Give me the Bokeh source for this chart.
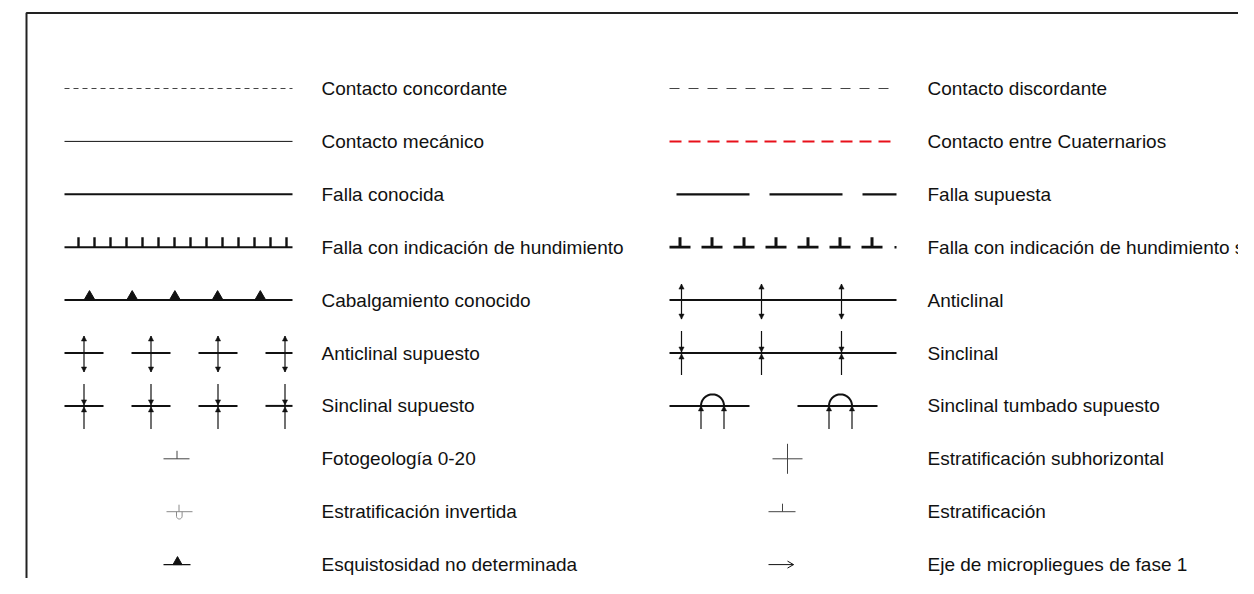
import numpy as np
from bokeh.plotting import figure
from bokeh.models import Range1d
from bokeh.embed import file_html
from bokeh.resources import INLINE
from bokeh.core.properties import value

# ---- legend content ----
left_labels = ["Contacto concordante", "Contacto mecánico", "Falla conocida",
               "Falla con indicación de hundimiento", "Cabalgamiento conocido",
               "Anticlinal supuesto", "Sinclinal supuesto", "Fotogeología 0-20",
               "Estratificación invertida", "Esquistosidad no determinada"]
right_labels = ["Contacto discordante", "Contacto entre Cuaternarios", "Falla supuesta",
                "Falla con indicación de hundimiento supuesto", "Anticlinal", "Sinclinal",
                "Sinclinal tumbado supuesto", "Estratificación subhorizontal",
                "Estratificación", "Eje de micropliegues de fase 1"]
left_symbols = ["dotted", "thin", "thick", "hund", "cabalg", "antic_sup", "sincl_sup",
                "foto", "invert", "esquist"]
right_symbols = ["dashed", "red_dashed", "long_dashed", "hund_sup", "antic", "sincl",
                 "tumbado", "cross", "estrat", "micro"]

W, H = 1238, 578
p = figure(width=W, height=H, x_range=Range1d(0, W), y_range=Range1d(H, 0),
           output_backend="svg", toolbar_location=None, min_border=0,
           x_axis_location=None, y_axis_location=None)
p.grid.visible = False
p.outline_line_color = None
p.background_fill_color = "white"

# frame
p.line([26, 26, 1300], [700, 12.5, 12.5], line_width=2, line_color="#222222")

ROW0, DY = 88, 52.9
LX0, LX1 = 64, 292
RX0, RX1 = 669, 896
K = "#111111"


def hline(x0, x1, y, w=1, c=K, dash="solid"):
    p.line([x0, x1], [y, y], line_width=w, line_color=c, line_dash=dash)


def head(x, ty, up, s=2.6, h=5, c=K):
    d = h if up else -h
    p.patch([x - s, x + s, x], [ty + d, ty + d, ty], fill_color=c, line_color=c, line_width=0.5)


def double_arrow(x, y, top=16, bot=19):
    p.segment(x, y - top, x, y + bot, line_width=1.2, line_color=K)
    head(x, y - top, True)
    head(x, y + bot, False)


def conv_arrow(x, y, top=22, bot=22):
    p.segment(x, y - top, x, y, line_width=1.2, line_color=K)
    p.segment(x, y + bot, x, y, line_width=1.2, line_color=K)
    head(x, y - 1, False)
    head(x, y + 1, True)


def draw(kind, x0, x1, y):
    cx = (x0 + x1) / 2
    if kind == "dotted":
        hline(x0, x1, y, 1, "#444444", "5 4")
    elif kind == "dashed":
        hline(x0, x1, y, 1, "#444444", "10 9")
    elif kind == "thin":
        hline(x0, x1, y, 1)
    elif kind == "red_dashed":
        hline(x0, x1, y, 2, "#e8101a", "12 7")
    elif kind == "thick":
        hline(x0, x1, y, 2)
    elif kind == "long_dashed":
        hline(x0 + 7, x1, y, 2.2, K, "73 20")
    elif kind == "hund":
        hline(x0, x1, y, 2)
        xs = np.arange(x0 + 14, x1, 16)
        p.segment(xs, y - 10, xs, y, line_width=2.4, line_color=K)
    elif kind == "hund_sup":
        starts = np.arange(x0, x1 - 21, 32)
        p.segment(starts, y, starts + 21, y, line_width=2.8, line_color=K)
        p.segment(starts + 10.5, y - 10, starts + 10.5, y, line_width=3, line_color=K)
        p.segment(x1 - 2, y, x1, y, line_width=2.6, line_color=K)
    elif kind == "cabalg":
        hline(x0, x1, y, 2)
        for xc in x0 + 25 + 42.7 * np.arange(5):
            p.patch([xc - 5.5, xc + 5.5, xc], [y, y, y - 9.5], fill_color=K, line_color=K)
    elif kind == "antic":
        hline(x0, x1, y, 2)
        for xc in x0 + 12 + 80 * np.arange(3):
            double_arrow(xc, y)
    elif kind == "sincl":
        hline(x0, x1, y, 2)
        for xc in x0 + 12 + 80 * np.arange(3):
            conv_arrow(xc, y)
    elif kind in ("antic_sup", "sincl_sup"):
        starts = np.arange(x0, x1, 67)
        ends = np.minimum(starts + 39, x1)
        p.segment(starts, y, ends, y, line_width=2, line_color=K)
        for xc in starts + 19.5:
            if kind == "antic_sup":
                double_arrow(min(xc, x1 - 7), y, 17, 19)
            else:
                conv_arrow(min(xc, x1 - 7), y, 22, 23)
    elif kind == "tumbado":
        for s in (x0, x0 + 128):
            p.segment(s, y, s + 80, y, line_width=2, line_color=K)
            c = s + 43
            r = 11.5
            th = np.linspace(0, np.pi, 30)
            p.line(c + r * np.cos(th), y - r * np.sin(th), line_width=2, line_color=K)
            for xa in (c - r, c + r):
                p.segment(xa, y + 23, xa, y, line_width=1.2, line_color=K)
                head(xa, y, True)
    elif kind == "foto":
        p.segment(cx - 15, y, cx + 11, y, line_width=1, line_color="#444444")
        p.segment(cx - 1.5, y - 8, cx - 1.5, y, line_width=1, line_color="#444444")
    elif kind == "invert":
        g = "#8a8a8a"
        p.segment(cx - 12, y, cx + 14, y, line_width=1, line_color=g)
        p.segment(cx + 0.5, y - 7, cx + 0.5, y, line_width=1, line_color=g)
        th = np.linspace(np.pi, 2 * np.pi, 15)
        ux = np.concatenate([[cx - 2], cx + 0.8 + 2.8 * np.cos(th), [cx + 3.6]])
        uy = np.concatenate([[y], y + 4.5 - 2.8 * np.sin(th), [y]])
        p.line(ux, uy, line_width=1, line_color=g)
    elif kind == "esquist":
        p.segment(cx - 15, y, cx + 12, y, line_width=1.2, line_color=K)
        p.patch([cx - 5.5, cx + 3.5, cx - 1], [y, y, y - 8], fill_color=K, line_color=K)
    elif kind == "cross":
        p.segment(cx - 10.5, y, cx + 19.5, y, line_width=1, line_color="#444444")
        p.segment(cx + 4.5, y - 15, cx + 4.5, y + 15, line_width=1, line_color="#444444")
    elif kind == "estrat":
        p.segment(cx - 14.5, y, cx + 12.5, y, line_width=1, line_color="#444444")
        p.segment(cx - 0.5, y - 8, cx - 0.5, y, line_width=1, line_color="#444444")
    elif kind == "micro":
        p.segment(cx - 14.5, y, cx + 10.5, y, line_width=1, line_color=K)
        p.line([cx + 4.5, cx + 10.5, cx + 4.5], [y - 3.5, y, y + 3.5], line_width=1, line_color=K)


rows_y = ROW0 + DY * np.arange(len(left_labels))
for i, y in enumerate(rows_y):
    draw(left_symbols[i], LX0, LX1, y)
    draw(right_symbols[i], RX0, RX1, y)

font = value("Liberation Sans")
p.text(x=[321] * len(left_labels), y=list(rows_y), text=left_labels,
       text_font=font, text_font_size="19px", text_baseline="middle",
       text_color="#111111")
p.text(x=[927] * len(right_labels), y=list(rows_y), text=right_labels,
       text_font=font, text_font_size="19px", text_baseline="middle",
       text_color="#111111")

open("out.html", "w").write(file_html(p, INLINE))
